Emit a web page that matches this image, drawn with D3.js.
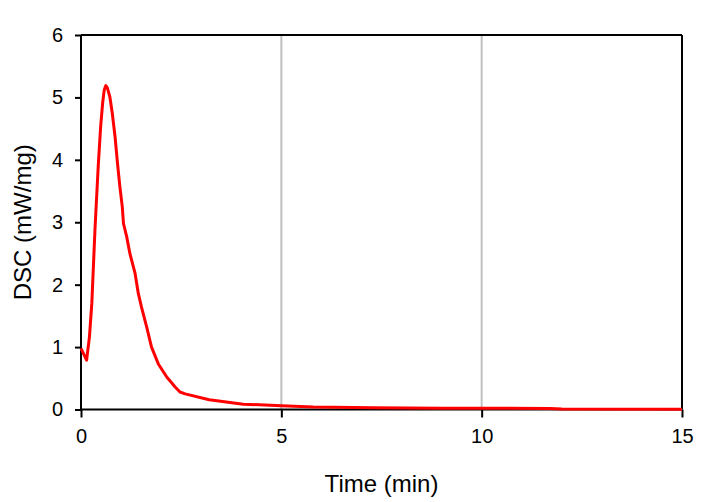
<!DOCTYPE html>
<html>
<head>
<meta charset="utf-8">
<script src="https://cdn.jsdelivr.net/npm/d3@7/dist/d3.min.js"></script>
<style>
  html, body { margin: 0; padding: 0; background: #fff; }
  svg { display: block; font-family: Arial, "Liberation Sans", sans-serif; }
</style>
</head>
<body>
<svg id="chart" width="724" height="502"></svg>
<script>
// Data
const timeMin = [0, 0.14, 0.21, 0.27, 0.31, 0.35, 0.39, 0.43, 0.49, 0.54, 0.58, 0.62, 0.66, 0.72, 0.78, 0.85, 0.91, 0.97, 1.03, 1.06, 1.14, 1.22, 1.35, 1.43, 1.51, 1.64, 1.76, 1.93, 2.14, 2.35, 2.47, 2.6, 3.2, 4.05, 5, 5.8, 7.3, 9, 11.7, 12, 15];
const dscValues = [0.98, 0.79, 1.16, 1.7, 2.3, 2.9, 3.4, 3.9, 4.53, 4.91, 5.12, 5.19, 5.15, 5.01, 4.75, 4.37, 3.95, 3.57, 3.25, 2.98, 2.77, 2.5, 2.18, 1.86, 1.64, 1.32, 1.0, 0.73, 0.52, 0.36, 0.28, 0.25, 0.155, 0.085, 0.062, 0.04, 0.03, 0.022, 0.018, 0.008, 0.005];
const xTicks = [0, 5, 10, 15];
const yTicks = [0, 1, 2, 3, 4, 5, 6];
const gridX = [5, 10];
const xTitle = "Time (min)";
const yTitle = "DSC (mW/mg)";

const svg = d3.select("#chart");
const L = 81, R = 682, T = 35, B = 409.5;

const x = d3.scaleLinear().domain([0, 15]).range([L, R]);
const y = d3.scaleLinear().domain([0, 6]).range([B, T]);

// grid lines
svg.append("g").selectAll("line").data(gridX).join("line")
  .attr("x1", d => x(d)).attr("x2", d => x(d))
  .attr("y1", T).attr("y2", B)
  .attr("stroke", "#c0c0c0").attr("stroke-width", 2);

// frame (top, right)
svg.append("line").attr("x1", L).attr("x2", R).attr("y1", T).attr("y2", T)
  .attr("stroke", "#000").attr("stroke-width", 2);
svg.append("line").attr("x1", R).attr("x2", R).attr("y1", T).attr("y2", B)
  .attr("stroke", "#000").attr("stroke-width", 2);

// axes
const xAxis = d3.axisBottom(x).tickValues(xTicks).tickSize(8).tickPadding(11).tickFormat(d3.format("d"));
const yAxis = d3.axisLeft(y).tickValues(yTicks).tickSize(6).tickPadding(12).tickFormat(d3.format("d"));

const gx = svg.append("g").attr("transform", `translate(0,${B})`).call(xAxis);
const gy = svg.append("g").attr("transform", `translate(${L},0)`).call(yAxis);
[gx, gy].forEach(g => {
  g.select(".domain").attr("stroke", "#000").attr("stroke-width", 2);
  g.selectAll(".tick line").attr("stroke", "#000").attr("stroke-width", 2);
  g.selectAll(".tick text").attr("fill", "#000")
    .style("font-size", "20px").style("font-family", "Arial, 'Liberation Sans', sans-serif");
});
gx.select(".domain").attr("d", `M${L},0H${R}`);
gy.select(".domain").attr("d", `M0,${B}V${T}`);

// line
const data = timeMin.map((t, i) => ({t, v: dscValues[i]}));
svg.append("path").datum(data)
  .attr("fill", "none").attr("stroke", "#ff0000").attr("stroke-width", 3)
  .attr("stroke-linejoin", "round")
  .attr("d", d3.line().x(d => x(d.t)).y(d => y(d.v)));

// titles
svg.append("text").attr("x", (L + R) / 2).attr("y", 492)
  .attr("text-anchor", "middle").style("font-size", "24px").attr("fill", "#000")
  .text(xTitle);
svg.append("text")
  .attr("transform", `translate(31,${(T + B) / 2}) rotate(-90)`)
  .attr("text-anchor", "middle").style("font-size", "24px").attr("fill", "#000")
  .text(yTitle);
</script>
</body>
</html>
